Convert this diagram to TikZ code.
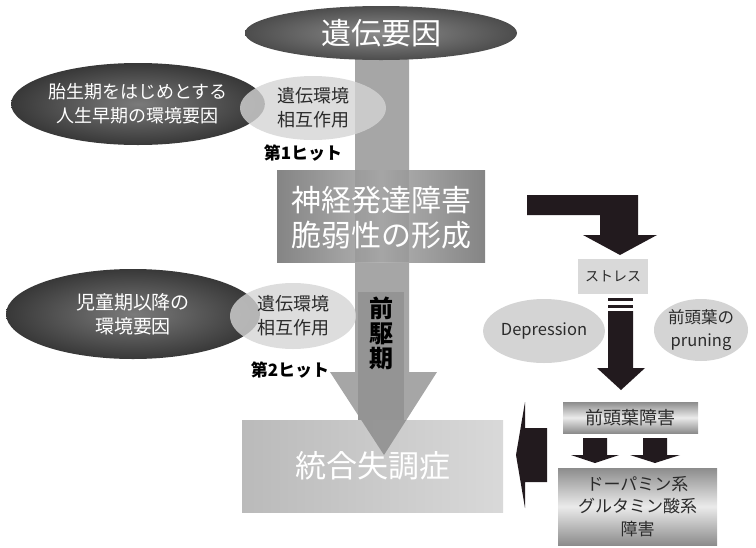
\documentclass[tikz,border=0pt]{standalone}
\usepackage{fontspec}
\setmainfont{Noto Sans CJK JP}
\usetikzlibrary{shapes.geometric}
\definecolor{blk}{HTML}{221A1E}
\definecolor{txtd}{HTML}{2A2A2A}
\tikzset{
  darkell/.style={ellipse, inner sep=0pt, shading=radial, inner color=black!52, outer color=black!78, text=white, align=center},
  lightell/.style={ellipse, inner sep=0pt, fill=black!17, fill opacity=0.8, text opacity=1, text=txtd, align=center},
  hit/.style={font=\bfseries\fontsize{17}{20}\selectfont, text=black},
  metal/.style={rectangle, inner sep=0pt, top color=black!45, bottom color=black!45, middle color=black!8, text=txtd, align=center},
  blockarrow/.style={fill=blk, draw=none},
  f18/.style={font=\fontsize{18}{24}\selectfont},
}
\begin{document}
\begin{tikzpicture}[x=1pt,y=-1pt]
\path[use as bounding box] (0,0) rectangle (756,547);

% Schizophrenia box (bottom)
\node[rectangle, minimum width=261, minimum height=92, inner sep=0pt,
      left color=black!27, right color=black!15, text=white,
      font=\fontsize{31}{36}\selectfont] (schizo) at (372.5,466) {統合失調症};

% Big central arrow
\fill[black!50, opacity=0.7] (355,57) -- (409,57) -- (409,372) -- (437,372) -- (384,455) -- (330,372) -- (355,372) -- cycle;
\coordinate (bigtip) at (384,455);

% Prodromal box
\node[rectangle, fill=black!42, minimum width=46, minimum height=128, inner sep=0pt] (prod) at (381,356) {};
\node[font=\bfseries\fontsize{24}{25}\selectfont, align=center, text=black] (prodtxt) at (381,333) {前\\駆\\期};

% Top ellipse
\node[darkell, minimum width=272, minimum height=54, inner color=black!45, outer color=black!70,
      font=\fontsize{30}{36}\selectfont] (gene) at (381,33) {遺伝要因};

% Neurodevelopment box
\node[rectangle, minimum width=208, minimum height=92, inner sep=0pt,
      left color=black!48, right color=black!48, middle color=black!30] (neuro) at (381,216) {};
\fill[black, opacity=0.07] (355,170) rectangle (409,262);
\node[text=white, align=center, font=\fontsize{30}{35}\selectfont] (neurotxt) at (381,218) {神経発達障害\\脆弱性の形成};

% First hit group
\node[darkell, minimum width=250, minimum height=82, font=\fontsize{18}{24}\selectfont] (early) at (138,104) {胎生期をはじめとする\\人生早期の環境要因};
\node[lightell, minimum width=146, minimum height=64, f18] (gxe1) at (313,108) {遺伝環境\\相互作用};
\node[hit] (hit1) at (303,153) {第1ヒット};

% Second hit group
\node[darkell, minimum width=254, minimum height=90, font=\fontsize{19}{24}\selectfont] (child) at (133,314) {児童期以降の\\環境要因};
\node[lightell, minimum width=126, minimum height=66, f18] (gxe2) at (293,316) {遺伝環境\\相互作用};
\node[hit] (hit2) at (290,370) {第2ヒット};

% Right side
\fill[blockarrow] (527,195) -- (638,195) -- (638,235) -- (657,235) -- (620,255) -- (583,235) -- (600,235) -- (600,215) -- (527,215) -- cycle;

\node[rectangle, fill=black!15, minimum width=70, minimum height=35, inner sep=0pt, text=txtd,
      font=\fontsize{14}{16}\selectfont] (stress) at (613,276) {ストレス};

\node[ellipse, fill=black!17, minimum width=102, minimum height=64, inner sep=0pt, text=txtd,
      font=\fontsize{16.5}{20}\selectfont] (dep) at (544,331) {Depression};
\node[ellipse, fill=black!17, minimum width=94, minimum height=62, inner sep=0pt, text=txtd, align=center,
      font=\fontsize{16.5}{23}\selectfont] (prune) at (701,330) {前頭葉の\\pruning};

\fill[blockarrow] (608,298) rectangle (633,301);
\fill[blockarrow] (608,305) rectangle (633,308);
\fill[blockarrow] (608,311) -- (633,311) -- (633,368) -- (645,368) -- (621,390) -- (597,368) -- (608,368) -- cycle;

\node[metal, minimum width=135, minimum height=31, font=\fontsize{18}{22}\selectfont] (pfc) at (630.5,417.5) {前頭葉障害};

\fill[blockarrow] (583,438) -- (607,438) -- (607,455) -- (619,455) -- (595,463) -- (571,455) -- (583,455) -- cycle;
\fill[blockarrow] (643,438) -- (667,438) -- (667,455) -- (680,455) -- (655,463) -- (630,455) -- (643,455) -- cycle;

\node[metal, minimum width=159, minimum height=77, font=\fontsize{17}{22.5}\selectfont] (dopa) at (637.5,506.5) {ドーパミン系\\グルタミン酸系\\障害};

\fill[blockarrow] (547,428) -- (547,482) -- (525,482) -- (525,508) -- (516,455) -- (525,402) -- (525,428) -- cycle;
\end{tikzpicture}
\end{document}
